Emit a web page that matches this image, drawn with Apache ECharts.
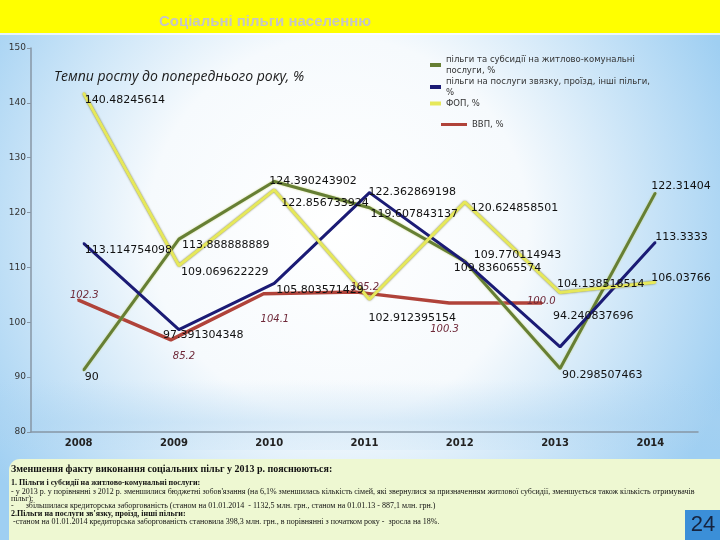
<!DOCTYPE html>
<html><head><meta charset="utf-8">
<script src="https://cdn.jsdelivr.net/npm/echarts@6/dist/echarts.min.js"></script>
<style>html,body{margin:0;padding:0;}#c{width:720px;height:540px;}</style>
</head><body><div id="c"></div>
<script>
// ---- data ----
const years = ['2008', '2009', '2010', '2011', '2012', '2013', '2014'];
const housingSubsidies = [90, 113.888888889, 124.390243902, 119.607843137, 109.836065574, 90.298507463, 122.31404];
const commsTransport = [113.114754098, 97.391304348, 105.803571429, 122.362869198, 109.770114943, 94.240837696, 113.3333];
const fop = [140.48245614, 109.069622229, 122.856733924, 102.912395154, 120.624858501, 104.138518514, 106.03766];
const gdpYears = ['2008', '2009', '2010', '2011', '2012', '2013'];
const gdpPlotted = [104.1, 96.8, 105.2, 105.5, 103.5, 103.5];
const gdpLabels = ['102.3', '85.2', '104.1', '105.2', '100.3', '100.0'];
const yMin = 80, yMax = 150, yStep = 10;

const names = [
  'пільги та субсидії на житлово-комунальні послуги, %',
  'пільги на послуги звязку, проїзд, інші пільги, %',
  'ФОП, %',
  'ВВП, %'
];
const legendText = {};
legendText[names[0]] = 'пільги та субсидії на житлово-комунальні\nпослуги, %';
legendText[names[1]] = 'пільги на послуги звязку, проїзд, інші пільги,\n%';
legendText[names[2]] = 'ФОП, %';
legendText[names[3]] = 'ВВП, %';

// ---- label styling (offsets relative to points) ----
const offGreen = [[0,7],[2,6],[-6,0],[0,6],[-12,7],[1,7],[-5,-7]];
const offBlue = [[0,7],[-17,6],[1,7],[-2,0],[8,-7],[-8,-31],[-1,-5]];
const offYellow = [[0,7],[1,7],[6,13],[-2,19],[5,6],[-4,-8],[-5,-4]];
const offRed = [[-9,-4],[1,17],[-4,26],[-7,-5],[-20,26],[-16,-2]];

function withOffsets(vals, offs) {
  return vals.map((v, i) => ({ value: v, label: { offset: offs[i] } }));
}
const numLabel = {
  show: true, position: 'right', distance: 0, align: 'left', verticalAlign: 'middle',
  fontFamily: 'DejaVu Sans', fontSize: 11, color: '#111',
  formatter: p => String(p.value)
};

const chart = echarts.init(document.getElementById('c'), null, { renderer: 'canvas' });

const bottomLines = [
  { t: 'Зменшення факту виконання соціальних пільг у 2013 р. пояснюються:', y: 469, s: 10, b: true },
  { t: '1. Пільги і субсидії на житлово-комунальні послуги:', y: 483, s: 8, b: true },
  { t: "- у 2013 р. у порівнянні з 2012 р. зменшилися бюджетні зобов'язання (на 6,1% зменшилась кількість сімей, які звернулися за призначенням житлової субсидії, зменшується також кількість отримувачів", y: 491.5, s: 8, b: false },
  { t: 'пільг);', y: 498.5, s: 8, b: false },
  { t: '-      збільшилася кредиторська заборгованість (станом на 01.01.2014  - 1132,5 млн. грн., станом на 01.01.13 - 887,1 млн. грн.)', y: 506, s: 8, b: false },
  { t: "2.Пільги на послуги зв'язку, проїзд, інші пільги:", y: 514, s: 8, b: true },
  { t: ' -станом на 01.01.2014 кредиторська заборгованість становила 398,3 млн. грн., в порівнянні з початком року -  зросла на 18%.', y: 522, s: 8, b: false }
];

const graphics = [
  { type: 'rect', shape: { x: 0, y: 0, width: 720, height: 33 }, style: { fill: '#ffff00' }, z: -5 },
  { type: 'rect', shape: { x: 0, y: 33, width: 720, height: 2 }, style: { fill: 'rgba(255,255,255,0.7)' }, z: -5 },
  { type: 'rect', shape: { x: 0, y: 380, width: 720, height: 70 }, style: { fill: {
      type: 'linear', x: 0, y: 0, x2: 0, y2: 1,
      colorStops: [{ offset: 0, color: 'rgba(170,210,240,0)' }, { offset: 0.6, color: 'rgba(170,210,240,0.35)' }, { offset: 1, color: 'rgba(170,210,240,0.1)' }] } }, z: -6 },
  { type: 'rect', shape: { x: 9, y: 459, width: 740, height: 100, r: 11 }, style: { fill: '#eef8d2' }, z: -5 },
  { type: 'rect', shape: { x: 685, y: 510, width: 35, height: 30 }, style: { fill: '#3b8fd8' }, z: 5 },
  { type: 'text', x: 703, y: 525, style: { text: '24', font: '22px "Liberation Sans"', fill: '#16243f', textAlign: 'center', textVerticalAlign: 'middle' }, z: 6 }
];
bottomLines.forEach(l => {
  graphics.push({ type: 'text', x: 11, y: l.y, z: 5, style: {
    text: l.t, font: (l.b ? 'bold ' : '') + l.s + 'px "Liberation Serif"', fill: '#111',
    textAlign: 'left', textVerticalAlign: 'middle' } });
});

chart.setOption({
  backgroundColor: {
    type: 'radial', x: 0.47, y: 0.42, r: 0.78,
    colorStops: [
      { offset: 0, color: '#ffffff' },
      { offset: 0.45, color: '#f6fafd' },
      { offset: 1, color: '#9fcff2' }
    ]
  },
  animation: false,
  graphic: graphics,
  title: [
    { text: 'Соціальні пільги населенню', left: 260, top: 9, textAlign: 'center',
      textStyle: { fontFamily: 'Liberation Sans', fontSize: 15, fontWeight: 'bold', color: '#c6c6c6' } },
    { text: 'Темпи росту до попереднього року, %', left: 49, top: 65,
      textStyle: { fontFamily: 'Open Sans', fontSize: 14, fontStyle: 'italic', fontWeight: 'normal', color: '#1a1a1a' } }
  ],
  legend: [
    { data: names.slice(0, 3), orient: 'vertical', left: 430, top: 54, padding: 0, itemGap: 0,
      itemWidth: 11, itemHeight: 4, icon: 'rect', selectedMode: false,
      formatter: n => legendText[n],
      textStyle: { fontFamily: 'DejaVu Sans', fontSize: 8.5, lineHeight: 11, color: '#333' } },
    { data: [names[3]], left: 441, top: 119, padding: 0, itemWidth: 26, itemHeight: 3, icon: 'rect',
      selectedMode: false, formatter: n => legendText[n],
      textStyle: { fontFamily: 'DejaVu Sans', fontSize: 8.5, lineHeight: 11, color: '#333' } }
  ],
  grid: [
    { left: 31, right: 22, top: 48, bottom: 108 },
    { left: 36, right: 17, top: 41, bottom: 115 },
    { left: 78, right: 178, top: 48, bottom: 108 }
  ],
  xAxis: [
    { type: 'category', gridIndex: 0, data: years, boundaryGap: true,
      axisLine: { lineStyle: { color: '#8796a5', width: 1.5 } },
      axisTick: { length: 5, lineStyle: { color: '#8796a5' } },
      axisLabel: { margin: 6, fontFamily: 'DejaVu Sans', fontSize: 10, fontWeight: 'bold', color: '#222' } },
    { type: 'category', gridIndex: 1, data: years, boundaryGap: true, show: false },
    { type: 'category', gridIndex: 2, data: gdpYears, boundaryGap: false, show: false }
  ],
  yAxis: [
    { type: 'value', gridIndex: 0, min: yMin, max: yMax, interval: yStep,
      splitLine: { show: false },
      axisLine: { show: true, lineStyle: { color: '#8796a5', width: 1.5 } },
      axisTick: { show: true, length: 4, lineStyle: { color: '#8796a5' } },
      axisLabel: { margin: 5, fontFamily: 'DejaVu Sans', fontSize: 9, color: '#333' } },
    { type: 'value', gridIndex: 1, min: yMin, max: yMax, interval: yStep, show: false, splitLine: { show: false } },
    { type: 'value', gridIndex: 2, min: yMin, max: yMax, interval: yStep, show: false, splitLine: { show: false } }
  ],
  series: [
    { name: names[3], type: 'line', xAxisIndex: 2, yAxisIndex: 2,
      data: withOffsets(gdpPlotted, offRed), symbol: 'circle', symbolSize: 2, color: '#b0433a',
      lineStyle: { width: 3.5, color: '#b0433a' }, itemStyle: { color: '#b0433a' },
      label: { show: true, position: 'right', distance: 0, align: 'left', verticalAlign: 'middle',
        fontFamily: 'DejaVu Sans', fontSize: 10, fontStyle: 'italic', color: '#6e2838',
        formatter: p => gdpLabels[p.dataIndex] } },
    { name: names[0], type: 'line', xAxisIndex: 1, yAxisIndex: 1,
      data: withOffsets(housingSubsidies, offGreen), symbol: 'circle', symbolSize: 2, color: '#667f34',
      lineStyle: { width: 3, color: '#667f34', shadowColor: 'rgba(200,210,120,0.9)', shadowBlur: 2 },
      itemStyle: { color: '#667f34' }, label: numLabel },
    { name: names[1], type: 'line', xAxisIndex: 1, yAxisIndex: 1,
      data: withOffsets(commsTransport, offBlue), symbol: 'circle', symbolSize: 2, color: '#1b1b75',
      lineStyle: { width: 3, color: '#1b1b75' }, itemStyle: { color: '#1b1b75' }, label: numLabel },
    { name: names[2], type: 'line', xAxisIndex: 1, yAxisIndex: 1,
      data: withOffsets(fop, offYellow), symbol: 'circle', symbolSize: 2, color: '#e6e85a',
      lineStyle: { width: 3, color: '#e6e85a', shadowColor: 'rgba(90,90,30,0.8)', shadowBlur: 2 },
      itemStyle: { color: '#e6e85a' }, label: numLabel }
  ]
});
</script>
</body></html>
